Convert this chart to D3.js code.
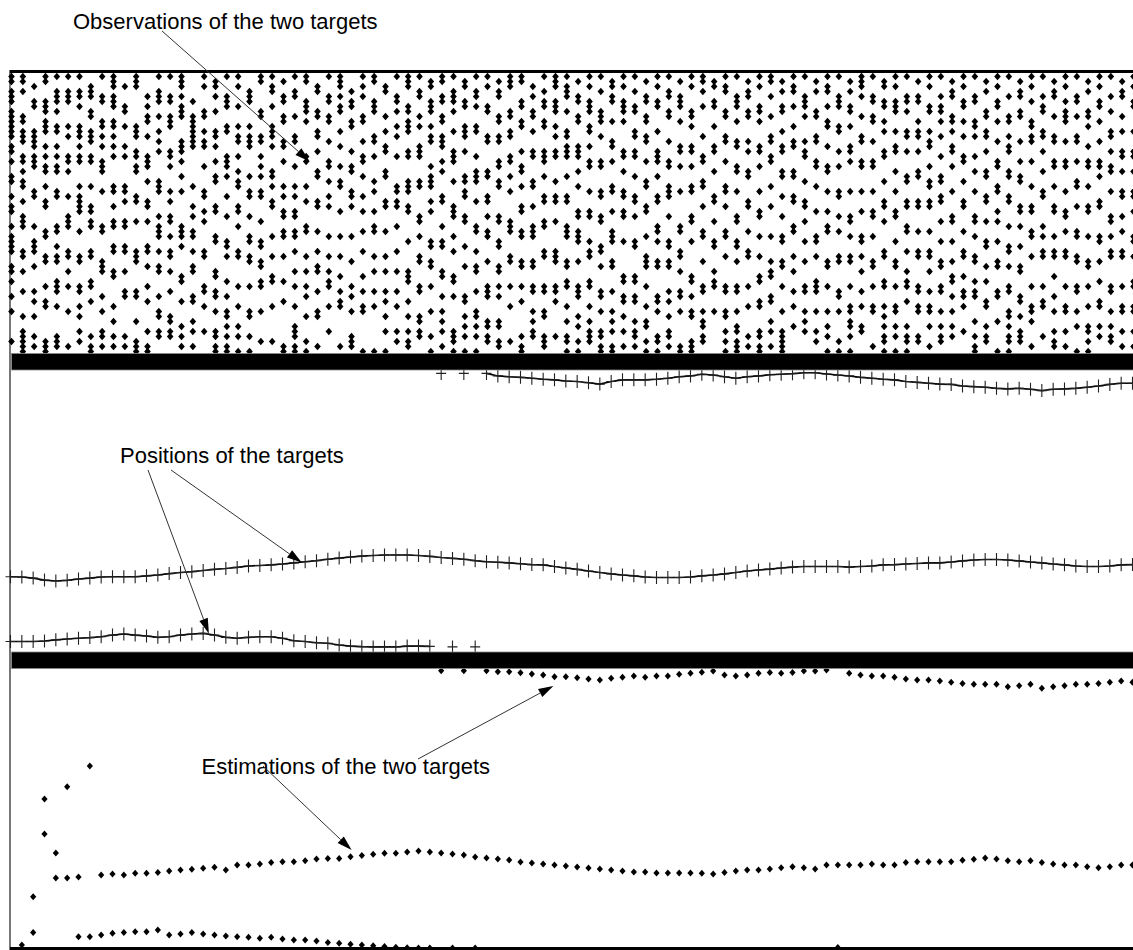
<!DOCTYPE html>
<html>
<head>
<meta charset="utf-8">
<script src="https://cdn.jsdelivr.net/npm/d3@7"></script>
<style>
body { margin: 0; background: #fff; }
svg { display: block; }
.note { font-family: "Liberation Sans", Arial, sans-serif; font-size: 22px; fill: #000; }
</style>
</head>
<body>
<div id="chart"></div>
<script>
// time steps of the simulation
var steps = d3.range(1, 101);

// true positions of the two targets (vertical position, 0-100, the space wraps round)
var target1 = [26.7,26.6,26.2,25.5,25.2,25.4,25.9,26.2,26.6,26.7, 26.7,26.7,27.0,27.3,27.8,28.2,28.5,28.9,29.3,29.6,
  30.0,30.5,30.7,30.9,31.2,31.6,32.0,32.4,32.9,33.3, 33.7,34.0,34.2,34.4,34.4,34.4,34.2,33.9,33.5,33.2,
  32.9,32.4,32.0,31.8,31.6,31.3,31.0,30.9,30.3,29.8, 29.3,28.7,28.2,27.7,27.3,27.0,26.6,26.4,26.4,26.4,
  26.6,27.0,27.3,27.7,28.2,28.7,29.1,29.4,29.8,30.1, 30.3,30.3,30.3,30.3,30.1,30.3,30.5,30.9,31.0,31.2,
  31.4,31.6,31.6,31.9,32.3,32.6,32.8,32.8,32.6,32.3, 31.9,31.6,31.2,30.9,30.5,30.3,30.3,30.5,30.9,31.0];
var target2 = [3.7,3.7,3.7,3.9,4.3,4.6,4.9,5.1,5.4,6.0, 6.4,6.0,5.7,5.2,5.4,6.0,6.4,6.6,6.0,5.2,
  4.9,5.2,5.4,5.4,4.9,4.0,3.7,3.3,3.1,2.5, 2.1,1.9,1.8,1.8,1.8,2.1,2.1,2.0,98.8,1.8,
  98.8,1.8,98.8,97.9,97.6,97.4,97.1,96.7,96.5,96.1, 95.9,95.5,95.0,95.9,96.5,96.5,96.5,96.7,97.1,97.6,
  97.9,98.5,98.2,97.6,97.1,97.6,97.9,98.3,98.5,98.7, 99.0,99.0,98.6,98.2,97.9,97.4,97.1,96.7,96.5,95.9,
  95.6,95.3,95.0,94.9,94.3,94.1,93.9,93.5,93.3,93.5, 93.2,92.7,93.2,93.3,93.5,93.9,94.3,94.9,95.3,95.3];

// estimated positions (null = not drawn)
var estimate1 = [null,null,18.3,40.7,25.0,25.0,25.4,65.0,26.1,26.4, 26.1,26.7,26.7,27.0,27.5,27.9,28.1,28.5,28.8,27.9,
  29.6,29.6,30.0,30.5,30.8,30.8,31.2,31.8,32.0,32.0, 32.6,33.0,33.5,33.8,33.8,34.3,34.6,34.3,33.9,33.6,
  33.2,32.5,32.1,31.8,31.4,30.7,30.4,30.0,29.6,29.3, 28.9,28.6,28.2,27.9,27.5,27.1,27.1,26.8,26.8,26.8,
  26.8,26.7,26.4,27.0,27.5,27.9,27.9,28.2,28.7,29.0, 28.7,28.2,29.6,29.6,29.6,29.6,30.0,29.6,29.6,30.5,
  30.8,30.8,30.8,30.8,31.3,31.7,32.1,31.8,31.2,30.8, 31.2,30.5,30.0,29.6,29.6,29.0,28.7,29.0,29.6,29.6];
var estimate2 = [null,1.1,5.5,53.2,33.9,57.6,4.0,4.0,4.6,5.3, 5.5,5.8,5.8,6.4,4.6,5.0,5.5,5.0,4.6,4.3,
  4.0,3.8,3.5,3.8,3.2,2.9,2.9,2.5,2.0,1.7, 1.3,1.1,0.8,0.5,0.3,0.1,0.0,0.0,99.0,0.0,
  99.0,0.0,99.0,98.7,98.7,98.3,97.9,97.5,96.9,96.9, 96.5,96.1,95.7,96.3,96.7,97.1,96.7,97.1,97.1,97.8,
  98.1,98.5,98.9,97.5,97.1,97.5,98.1,98.4,98.1,98.4, 98.9,98.9,99.3,0.2,98.1,97.5,97.1,97.1,96.7,96.1,
  95.7,95.7,95.4,94.9,94.5,94.2,94.2,94.2,93.3,93.7, 94.2,92.8,93.3,93.7,94.2,94.2,94.5,94.9,95.4,94.9];

// observations for each time step: one character per measurement cell,
// top cell (55) first down to cell 0, "#" = a return in that cell
var observations = [
  "##.###.### ###.##.#.. ##..#.##.. #.####..## .#..#..#.. ...#..",
  "##.#....## .###..##.# .##..#..## #....##..# ...#....#. .#####",
  "..#..##... .####.###. ...##..... #..###..#. ...#.#..#. ..#.#.",
  "##...###.# ##..#.#.## ..#..##... .##...##.. ..#..##... ...###",
  "#..###.#.. ##..#.#.## ...##..... ##..#.##.. .###..#... ..###.",
  "#..###.... #.#...##.# ....#...## #....##..# ..#....#.. ....#.",
  "#..##.#... ###.#.##.. ..#.####.. .#....##.. ..##..#.#. .#.#..",
  "..###..##. .###..##.. ..#...##.# #....##... .##..#.... ..#.##",
  "#...##...# #.#.#..### ...#...... ##.....### ....#..#.. .##.#.",
  "###.###..# #.#.#.#... ..##..#..# #...##...# #.....#..# ..#.#.",
  "..#...##.. #...#.#... ..##.#...# #...##...# ...##..... ..#.#.",
  "###....... ###..##.## ....##...# .....###.. ...##....# ...###",
  "....#.#.## ..#...###. .#...##..# ....##..#. ..#..#.... .#..##",
  "#..###..#. .#.#.#.... .###....#. ###..#..## ....#..##. .##...",
  "#...##..## #....##.#. ...#.#..## ..#..##..# ...#....## .##...",
  "###.#.###. ...###.#.. #..#...... ###.#..... ##...#.... #.#.#.",
  ".....#..## #####..... ..#...#.#. .##..#..## ....##...# .#..#.",
  "#.#....##. .#.##...#. ...##..#.# .....##... ..##..#... .#....",
  ".##.#..#.. .##.#..#.. ##....##.. ..##.....# #..##..#.. .##.##",
  "#...###... ##....###. #...#...#. ...##.#... .#..#..##. #.#.##",
  "#.#...#... #.##..#..# .##...##.. #....##... ..#...#... #.#..#",
  "...###.... #.###..... #..##...#. ..##..##.. ..#....##. ..#..#",
  "##.....##. ..##..#.#. #..##....# ...##..##. .##....#.. ...#..",
  "#.##..#... ###.#....# #.#..##... ..#...#... ##....#... ...#..",
  ".#..##..## ...##..#.. ..#.#..##. .##...#... .#...#.... ....##",
  "#..##...#. ..##....#. ..#.#..##. .##..#...# ..#...#... ###.##",
  "##...###.# ......##.. ..#..#.... ##....#..# ..#.#...#. ...#.#",
  "..##...##. .##..#...# #....##... .#...#..## ...#...##. ....#.",
  "#...##..## ...#...##. .#..#.#... ..#...#..# .##...#... .#....",
  "###.#.##.. .#..#...#. .##....#.. ..#...#... #..#.##... ....#.",
  "...#.##..# #....#..## ...##.#... ..#....#.. ..#.#..#.. ..###.",
  "#.#.#...## ...#..##.. #...#..#.. .#...#.... #..#..##.. .....#",
  "##...###.. ..##..#... .#.#...#.. ##....#..# ...#..#... .....#",
  "..##....#. .#..##...# #....##... .#....#..# ...#.#..#. .#...#",
  "#...##.#.. #.#...#... ..##.##... #....#...# ...#..#... .#.#..",
  "###...##.# ##...##... .###..##.. ...#.....# ##...#..#. .#.##.",
  "#..##...#. #...###... .##.....## ..#...##.. ..##....## .##...",
  ".##..###.. #.##....#. ###..#.#.. ...##..##. ..#....#.. ..#..#",
  "##..##..## ..###..#.# ....##.... #..##....# #...#..#.# .#..#.",
  "#..###.#.. .#...###.. .#....###. ..#..#.... ##..#..... .###.#",
  ".##..##... ###..#.... ##.##...## ....#...#. ....##..#. #.#..#",
  "#..##.#... ##....#..# ##...#.... ##...#..## ...#...##. #.#..#",
  "#.#...##.. ..##.....# #...##..#. .##....#.. ..###....# #.##..",
  ".#.##...## ..##...##. .##.....## ...##...## ..#.#....# #..##.",
  "###....##. .##...##.. #..#.....# ##....##.. ..#...#... ...#..",
  "##...##..# #....#..## ..#...##.. .##....##. ..#..#.... ..#.##",
  "..#.#..##. .#...##... .##...#... ###....##. ..##...#.# .##...",
  "#..#.##..# #....###.. #...##...# #....##... ..##...##. ..###.",
  "###..###.. #.#..##... .#..##...# .....###.. ..##.#.... ..#...",
  "#.###..#.. .##.###... #...##.... ###....##. .##...#..# ..##.#",
  ".#..##..## ....###..# ..#....##. .###...#.. ..###...#. #..#.#",
  "#.#..###.. ##..#..##. ...#...##. ...#.##... .##...#..# .###..",
  "#..#...### ..#....##. ...##...## ....##..#. ...##..#.. .##.##",
  ".##.##...# ...##..#.. ..##...#.. .###...##. ...#...#.# .#..##",
  "#.#..###.# .....##..# ...##..##. ...#...... ##..##..#. .#..#.",
  "#..#..##.. .##..##... #...##..#. ...##..... ##..##...# .##.#.",
  ".#..##..## ..##...#.. .##...##.. ..#...###. ..#...#..# #..#.#",
  "#.#..##... .#...###.. #...##.... ##.#...##. ....##.#.. ..##.#",
  "#..##..##. ...#...##. ..###...#. ...##..##. ...#.#..#. .##.#.",
  ".#..###..# ....##..#. ...#...... ##...##..# ...##..#.. ....##",
  "#.#....##. #...##..#. ..##....## ...#...... ##..#..##. ...###",
  "##.#..#... ..#...##.. .##...#... .##....#.. ..##...#.# #.##..",
  ".##..##... #...##...# ....##...# ...##....# .##....#.. ......",
  "#.##...##. ..##...#.. ..##..#... .##...#... ..##...##. .#.#.#",
  "#...###..# ...##...## ...#....## ...##..#.. ..##...#.. ##.###",
  ".#.##..##. ...#.#...# #....##... .#...##... ..#...#... ..#.#.",
  "#.#...##.# ....##..#. ...#...##. ..#...#... ##...##... .##.##",
  "##..#...#. ..##..##.. ..#...#... ..#....#.# #...##...# .#..#.",
  ".#.#..##.. .#..##...# #...#...#. ..##...##. ..#....#.. .#####",
  "#.##..#... #..##....# #...##.... ##....#..# ...#..#... #.....",
  "#...###.#. ...#.##... .#...##..# ...#...#.. ..##...#.# .#....",
  ".#.#...##. ..##...##. ..#....#.. ..##..#... .###...#.. .#.#..",
  "#.##..#..# #...#...## ...#...#.. ##.....##. ..#....#.. #.#..#",
  "#...###... ##...#..#. ...##...#. .#....##.. ...##..#.. ...#.#",
  ".#.#..##.. #...##.#.. ...#....## ..#...##.. ..#...##.# #.#..#",
  "###.#...#. ..##...##. ...#...#.. ..##..#..# ...#..#... ##....",
  "#...##..## ...#...##. ...#...##. ..#....##. ..#...##.. ....#.",
  ".##..##..# .#...##... .#...##..# .....##... .##...#.#. #.##.#",
  "#.#..###.. .#..##...# ...#...##. ...#...##. ..#...##.. #.#..#",
  "#...##.#.. .##..#.... ##...##... ##...#...# .##..#.... #.##.#",
  ".#..##...# .##..#...# #....##... .#...##... ..##..##.. ..##..",
  "#.#...##.. .#.##...#. .##..##... .#...##..# ...#..##.. #...#.",
  "#...#.##.# ..#...#... ##..##...# ...#...##. ..##...#.. #.##..",
  ".#.##...## .#..##..#. ...#....## ...#...#.. ##..#..#.. #.#...",
  "#.#..##..# ..#...##.. .#...##... .#...##... #..##.#... .#....",
  "#...##...# #.#...#..# ...#....## ..#...##.. .#.##....# ..#.##",
  ".#.#...##. .##..#...# #...##...# ...##...#. .#...##... #.##..",
  "#.#..##..# ...#...##. ..##...#.# ...#...##. ...##....# .....#",
  "#...#...## ..#.##...# #...##.... #...##..#. ..##...##. #.##.#",
  ".#.##..##. ...#...#.. ##....##.. #...#...## ....##..#. .###..",
  "#.#..#...# #.##...#.. ..#...##.. .##...#... ..#...##.# ....#.",
  "#...#.##.. .##..#...# ...##..... #.#..##... ..#..##... ..#...",
  ".#.##...#. ..##...##. ..#...##.. ..#..##... #...#..#.. .#.##.",
  "#.#..#.### ...#...##. ...#...##. .#...##... ..#...##.. .#..#.",
  "#...##..#. ..##...#.. .##...#... .##...##.. ..##...#.. #....#",
  ".#.#...##. #...#..##. ..#...##.. ..#....##. ..#...#... ##.#.#",
  "#.#..##..# ...#...##. #....##... ..##...#.. .#...##... #.#...",
  "#...#..#.. .##..#..## ...#....## ..#..##... ..##...#.. #.##..",
  ".#.##...#. .#...##..# ...##...#. .#...##... ..#...##.. .#..#.",
  "#.#..##... .#...##..# ...##..#.. ..##..#... .##...##.. .#..#."
];

var width = 1133, height = 950;
var svg = d3.select("#chart").append("svg")
    .attr("width", width)
    .attr("height", height);

var x = d3.scaleLinear().domain([1, 100]).range([10.5, 1132.5]);
var yObs = d3.scaleLinear().domain([0, 55]).range([351.5, 76.5]);
var yPos = d3.scaleLinear().domain([0, 100]).range([652, 370]);
var yEst = d3.scaleLinear().domain([0, 100]).range([948, 668]);

var obsMark = "M0,-3.8L3.3,0L0,3.8L-3.3,0Z";
var estMark = "M0,-3.5L3.1,0L0,3.5L-3.1,0Z";
var cross = "M-5,0H5M0,-6.5V6.5";

// left edge first, the first column of marks sits on it
svg.append("rect").attr("x", 9).attr("y", 70).attr("width", 2).attr("height", 880).attr("fill", "#777");

// observation panel
var obsPoints = [];
observations.forEach(function (col, i) {
    var cells = col.replace(/ /g, "").split("");
    cells.forEach(function (c, k) {
        if (c === "#") obsPoints.push({t: steps[i], cell: 55 - k});
    });
});
svg.append("g").selectAll("path")
    .data(obsPoints)
    .enter().append("path")
    .attr("d", obsMark)
    .attr("transform", function (d) { return "translate(" + (x(d.t) + 1) + "," + yObs(d.cell) + ")"; })
    .attr("fill", "#000");

// positions panel: break the track where it wraps round
function segments(values) {
    var segs = [], cur = [];
    values.forEach(function (v, i) {
        if (cur.length && Math.abs(v - cur[cur.length - 1].v) > 50) {
            segs.push(cur);
            cur = [];
        }
        cur.push({t: steps[i], v: v});
    });
    segs.push(cur);
    return segs;
}
var line = d3.line()
    .x(function (d) { return x(d.t); })
    .y(function (d) { return yPos(d.v); });

[target1, target2].forEach(function (track) {
    var g = svg.append("g");
    g.selectAll("path.seg")
        .data(segments(track).filter(function (s) { return s.length > 1; }))
        .enter().append("path")
        .attr("class", "seg")
        .attr("d", line)
        .attr("fill", "none")
        .attr("stroke", "#000")
        .attr("stroke-width", 1.6);
    g.selectAll("path.mark")
        .data(track)
        .enter().append("path")
        .attr("class", "mark")
        .attr("d", cross)
        .attr("transform", function (d, i) { return "translate(" + x(steps[i]) + "," + yPos(d) + ")"; })
        .attr("fill", "none")
        .attr("stroke", "#222")
        .attr("stroke-width", 1.1);
});

// estimations panel
[estimate1, estimate2].forEach(function (est) {
    svg.append("g").selectAll("path")
        .data(est.map(function (v, i) { return {t: steps[i], v: v}; })
            .filter(function (d) { return d.v !== null; }))
        .enter().append("path")
        .attr("d", estMark)
        .attr("transform", function (d) { return "translate(" + x(d.t) + "," + yEst(d.v) + ")"; })
        .attr("fill", "#000");
});

// frame: top line, separators, bottom line
svg.append("rect").attr("x", 10).attr("y", 70).attr("width", width - 10).attr("height", 3).attr("fill", "#000");
svg.append("rect").attr("x", 11.5).attr("y", 353.5).attr("width", width).attr("height", 16.5)
    .attr("fill", "#000").attr("stroke", "#888").attr("stroke-width", 0.8);
svg.append("rect").attr("x", 11.5).attr("y", 652).attr("width", width).attr("height", 16.5)
    .attr("fill", "#000").attr("stroke", "#888").attr("stroke-width", 0.8);
svg.append("rect").attr("x", 10).attr("y", 947).attr("width", width - 10).attr("height", 3).attr("fill", "#000");

// annotations
var notes = [
    {text: "Observations of the two targets", x: 73, y: 28.5,
     arrows: [{from: [162, 31], to: [x(27.4), yObs(38)]}]},
    {text: "Positions of the targets", x: 120, y: 463,
     arrows: [{from: [148, 470], to: [x(18.5), yPos(6.6)]},
              {from: [171, 470], to: [x(26.7), yPos(31.7)]}]},
    {text: "Estimations of the two targets", x: 201.5, y: 774,
     arrows: [{from: [263, 766], to: [x(31.1), yEst(35)]},
              {from: [418, 759], to: [x(48.9), yEst(93.6)]}]}
];

notes.forEach(function (n) {
    svg.append("text").attr("class", "note").attr("x", n.x).attr("y", n.y).text(n.text);
    n.arrows.forEach(function (a) {
        var dx = a.to[0] - a.from[0], dy = a.to[1] - a.from[1];
        var len = Math.sqrt(dx * dx + dy * dy);
        var ux = dx / len, uy = dy / len;
        var L = 15, W = 4.5;
        var bx = a.to[0] - ux * L, by = a.to[1] - uy * L;
        svg.append("line")
            .attr("x1", a.from[0]).attr("y1", a.from[1])
            .attr("x2", bx).attr("y2", by)
            .attr("stroke", "#333").attr("stroke-width", 1);
        svg.append("path")
            .attr("d", "M" + a.to[0] + "," + a.to[1] +
                "L" + (bx - uy * W) + "," + (by + ux * W) +
                "L" + (bx + uy * W) + "," + (by - ux * W) + "Z")
            .attr("fill", "#000");
    });
});
</script>
</body>
</html>
